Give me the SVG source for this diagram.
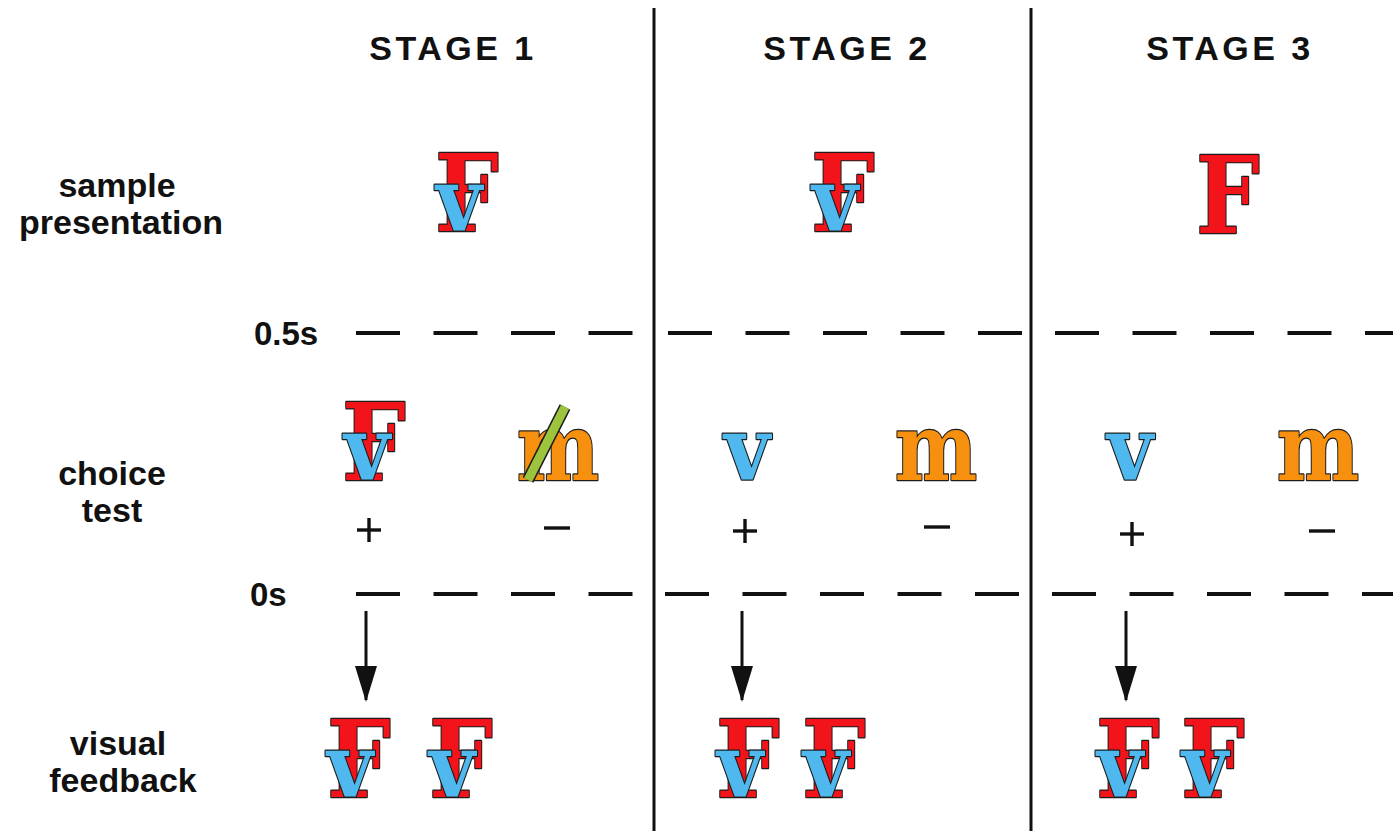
<svg xmlns="http://www.w3.org/2000/svg" width="1399" height="831" viewBox="0 0 1399 831">
  <defs>
    <style>
      .title { font-family: "Liberation Sans", Arial, sans-serif; font-weight: bold; font-size: 34px; letter-spacing: 3.5px; fill: #111; text-anchor: middle; }
      .row { font-family: "Liberation Sans", Arial, sans-serif; font-weight: bold; font-size: 34px; fill: #111; text-anchor: middle; }
      .time { font-family: "Liberation Sans", Arial, sans-serif; font-weight: bold; font-size: 33px; fill: #111; }
      .glyph { font-family: "DejaVu Serif", "Liberation Serif", serif; font-weight: bold; text-anchor: middle; stroke: #1c1c1c; stroke-width: 2.4px; paint-order: stroke; stroke-linejoin: round; }
      .F { font-size: 107px; fill: #f2141a; }
      .v { font-size: 88px; fill: #4fb8ee; }
      .m { font-size: 94px; fill: #f7900f; }
      .divider { stroke: #111; stroke-width: 3; }
      .dash { stroke: #111; stroke-width: 3.8; stroke-dasharray: 44 33.5; }
      .sign { stroke: #111; stroke-width: 3.4; }
      .arrow { stroke: #111; stroke-width: 3; }
    </style>
    <marker id="head" markerWidth="36" markerHeight="24" refX="34" refY="11" orient="auto" markerUnits="userSpaceOnUse" viewBox="0 0 36 24">
      <path d="M0,0 L36,11 L0,22 Z" fill="#111"/>
    </marker>
  </defs>

  <rect width="1399" height="831" fill="#ffffff"/>

  <!-- column dividers -->
  <g id="dividers">
    <line class="divider" x1="654" y1="8" x2="654" y2="831"/>
    <line class="divider" x1="1031" y1="8" x2="1031" y2="831"/>
  </g>

  <!-- stage headings -->
  <g id="headings">
    <text class="title" x="453" y="60">STAGE 1</text>
    <text class="title" x="847" y="60">STAGE 2</text>
    <text class="title" x="1230" y="60">STAGE 3</text>
  </g>

  <!-- row labels -->
  <g id="row-labels">
    <text class="row" x="117" y="197">sample</text>
    <text class="row" x="121" y="234">presentation</text>
    <text class="row" x="112" y="485">choice</text>
    <text class="row" x="112" y="522">test</text>
    <text class="row" x="118" y="755">visual</text>
    <text class="row" x="123" y="792">feedback</text>
  </g>

  <!-- time markers -->
  <g id="time-lines">
    <text class="time" x="254" y="345">0.5s</text>
    <text class="time" x="250" y="606">0s</text>
    <line class="dash" x1="356" y1="333" x2="652" y2="333"/>
    <line class="dash" x1="668" y1="333" x2="1029" y2="333"/>
    <line class="dash" x1="1055" y1="333" x2="1393" y2="333"/>
    <line class="dash" x1="356" y1="594" x2="652" y2="594"/>
    <line class="dash" x1="665" y1="594" x2="1029" y2="594"/>
    <line class="dash" x1="1052" y1="594" x2="1393" y2="594"/>
  </g>

  <!-- stage 1 -->
  <g id="stage1-sample">
    <text class="glyph F" transform="translate(467 231) scale(0.84 1)">F</text>
    <text class="glyph v" transform="translate(459 231) scale(0.9 1)">v</text>
  </g>
  <g id="stage1-choice-plus">
    <text class="glyph F" transform="translate(374 480) scale(0.84 1)">F</text>
    <text class="glyph v" transform="translate(367 480) scale(0.9 1)">v</text>
    <line class="sign" x1="357" y1="530" x2="381" y2="530"/>
    <line class="sign" x1="369" y1="518" x2="369" y2="542"/>
  </g>
  <g id="stage1-choice-minus">
    <text class="glyph m" transform="translate(558 480) scale(0.83 1)">m</text>
    <line x1="565" y1="407" x2="528" y2="480" stroke="#1c1c1c" stroke-width="12"/>
    <line x1="565" y1="407" x2="528" y2="480" stroke="#9cc43c" stroke-width="9"/>
    <line class="sign" x1="544" y1="528" x2="570" y2="528"/>
  </g>
  <g id="stage1-feedback">
    <text class="glyph F" transform="translate(359 797) scale(0.84 1)">F</text>
    <text class="glyph v" transform="translate(350 797) scale(0.9 1)">v</text>
    <text class="glyph F" transform="translate(461 797) scale(0.84 1)">F</text>
    <text class="glyph v" transform="translate(452 797) scale(0.9 1)">v</text>
  </g>

  <!-- stage 2 -->
  <g id="stage2-sample">
    <text class="glyph F" transform="translate(843 231) scale(0.84 1)">F</text>
    <text class="glyph v" transform="translate(835 231) scale(0.9 1)">v</text>
  </g>
  <g id="stage2-choice-plus">
    <text class="glyph v" transform="translate(747 480) scale(0.9 1)">v</text>
    <line class="sign" x1="733" y1="531" x2="757" y2="531"/>
    <line class="sign" x1="745" y1="519" x2="745" y2="543"/>
  </g>
  <g id="stage2-choice-minus">
    <text class="glyph m" transform="translate(936 480) scale(0.83 1)">m</text>
    <line class="sign" x1="924" y1="527" x2="950" y2="527"/>
  </g>
  <g id="stage2-feedback">
    <text class="glyph F" transform="translate(748 797) scale(0.84 1)">F</text>
    <text class="glyph v" transform="translate(740 797) scale(0.9 1)">v</text>
    <text class="glyph F" transform="translate(834 797) scale(0.84 1)">F</text>
    <text class="glyph v" transform="translate(826 797) scale(0.9 1)">v</text>
  </g>

  <!-- stage 3 -->
  <g id="stage3-sample">
    <text class="glyph F" transform="translate(1228 233) scale(0.84 1)">F</text>
  </g>
  <g id="stage3-choice-plus">
    <text class="glyph v" transform="translate(1130 480) scale(0.9 1)">v</text>
    <line class="sign" x1="1120" y1="534" x2="1144" y2="534"/>
    <line class="sign" x1="1132" y1="522" x2="1132" y2="546"/>
  </g>
  <g id="stage3-choice-minus">
    <text class="glyph m" transform="translate(1318 480) scale(0.83 1)">m</text>
    <line class="sign" x1="1309" y1="531" x2="1335" y2="531"/>
  </g>
  <g id="stage3-feedback">
    <text class="glyph F" transform="translate(1128 797) scale(0.84 1)">F</text>
    <text class="glyph v" transform="translate(1120 797) scale(0.9 1)">v</text>
    <text class="glyph F" transform="translate(1213 797) scale(0.84 1)">F</text>
    <text class="glyph v" transform="translate(1205 797) scale(0.9 1)">v</text>
  </g>

  <!-- arrows from choice to feedback -->
  <g id="connectors">
    <line class="arrow" x1="366" y1="611" x2="366" y2="700" marker-end="url(#head)"/>
    <line class="arrow" x1="742" y1="611" x2="742" y2="700" marker-end="url(#head)"/>
    <line class="arrow" x1="1126" y1="611" x2="1126" y2="700" marker-end="url(#head)"/>
  </g>
</svg>
